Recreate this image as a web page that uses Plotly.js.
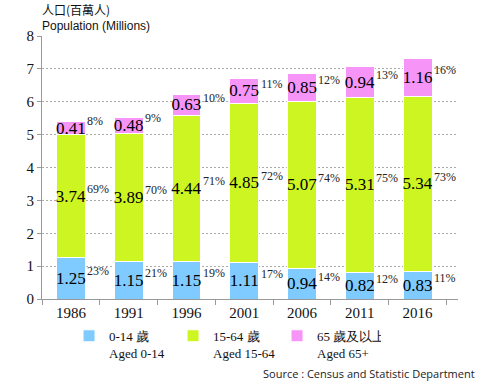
<!DOCTYPE html>
<html>
<head>
<meta charset="utf-8">
<script src="https://cdn.plot.ly/plotly-3.0.1.min.js"></script>
<style>html,body{margin:0;padding:0;background:#fff;}#chart{width:500px;height:383px;}</style>
</head>
<body>
<div id="chart"></div>
<script>
const years = ["1986","1991","1996","2001","2006","2011","2016"];
const aged0_14 = [1.25,1.15,1.15,1.11,0.94,0.82,0.83];
const aged15_64 = [3.74,3.89,4.44,4.85,5.07,5.31,5.34];
const aged65 = [0.41,0.48,0.63,0.75,0.85,0.94,1.16];
const pct0_14 = [23,21,19,17,14,12,11];
const pct15_64 = [69,70,71,72,74,75,73];
const pct65 = [8,9,10,11,12,13,16];
const seriesNames = ["0-14 歲<br>Aged 0-14","15-64 歲<br>Aged 15-64","65 歲及以上<br>Aged 65+"];
const colors = ["#7fcaff","#ccf522","#f794f7"];

const serif = "'Liberation Serif', 'Times New Roman', serif";
const series = [aged0_14, aged15_64, aged65];
const pcts = [pct0_14, pct15_64, pct65];

const traces = series.map((vals, i) => ({
  type: "bar",
  x: years,
  y: vals,
  name: seriesNames[i],
  marker: {color: colors[i], line: {color: "#ffffff", width: 1}},
  text: vals.map(v => v.toFixed(2)),
  textposition: "inside",
  insidetextanchor: "middle",
  textangle: 0,
  constraintext: "none",
  textfont: {family: serif, size: 17, color: "#000"},
  insidetextfont: {family: serif, size: 17, color: "#000"},
  hoverinfo: "skip"
}));

const annotations = [];
years.forEach((yr, j) => {
  let base = 0;
  series.forEach((vals, i) => {
    const mid = base + vals[j] / 2;
    base += vals[j];
    annotations.push({
      x: j + 0.25, y: mid, xref: "x", yref: "y",
      text: pcts[i][j] + "%", showarrow: false,
      xanchor: "left", yanchor: "middle", yshift: 7, xshift: 0,
      font: {family: serif, size: 12, color: "#222"}
    });
  });
});
annotations.push({
  xref: "paper", yref: "paper", x: 0.0, y: 1.0, yshift: 36, xshift: -1,
  xanchor: "left", yanchor: "top", showarrow: false, borderpad: 0,
  text: "人口(百萬人)",
  font: {family: "'Noto Sans CJK TC', sans-serif", size: 12, color: "#111"}
});
annotations.push({
  xref: "paper", yref: "paper", x: 0.0, y: 1.0, yshift: 10, xshift: -1,
  xanchor: "left", yanchor: "middle", showarrow: false, borderpad: 0,
  text: "Population (Millions)",
  font: {family: "'Liberation Sans', Arial, sans-serif", size: 12, color: "#111"}
});
annotations.push({
  xref: "paper", yref: "paper", x: 1.0457, y: -0.284,
  xanchor: "right", yanchor: "middle", showarrow: false,
  text: "Source : Census and Statistic Department",
  font: {family: "'Open Sans', 'Liberation Sans', sans-serif", size: 11, color: "#222"}
});

const layout = {
  width: 500, height: 383,
  margin: {l: 42, r: 42, t: 36, b: 84, autoexpand: false},
  paper_bgcolor: "#fff", plot_bgcolor: "#fff",
  barmode: "stack",
  bargap: 0.5,
  showlegend: true,
  legend: {
    orientation: "h", x: 0.065, y: -0.083, xanchor: "left", yanchor: "top",
    font: {family: serif, size: 13, color: "#111"},
    entrywidth: 59, entrywidthmode: "pixels",
    itemwidth: 30, traceorder: "normal", valign: "top",
    tracegroupgap: 0
  },
  xaxis: {
    type: "category",
    tickson: "boundaries",
    ticks: "outside", ticklen: 5, tickcolor: "#999",
    showline: true, linecolor: "#999", linewidth: 1,
    showgrid: false,
    tickfont: {family: serif, size: 15, color: "#111"},
    fixedrange: true
  },
  yaxis: {
    range: [0, 8], dtick: 1,
    ticks: "outside", ticklen: 4, tickcolor: "#999",
    showline: true, linecolor: "#999", linewidth: 1,
    showgrid: true, gridcolor: "#aaa", griddash: "2px,2px", gridwidth: 1,
    zeroline: false,
    tickfont: {family: serif, size: 15, color: "#111"},
    fixedrange: true
  },
  annotations: annotations
};

Plotly.newPlot("chart", traces, layout, {displayModeBar: false, staticPlot: true});
</script>
</body>
</html>
